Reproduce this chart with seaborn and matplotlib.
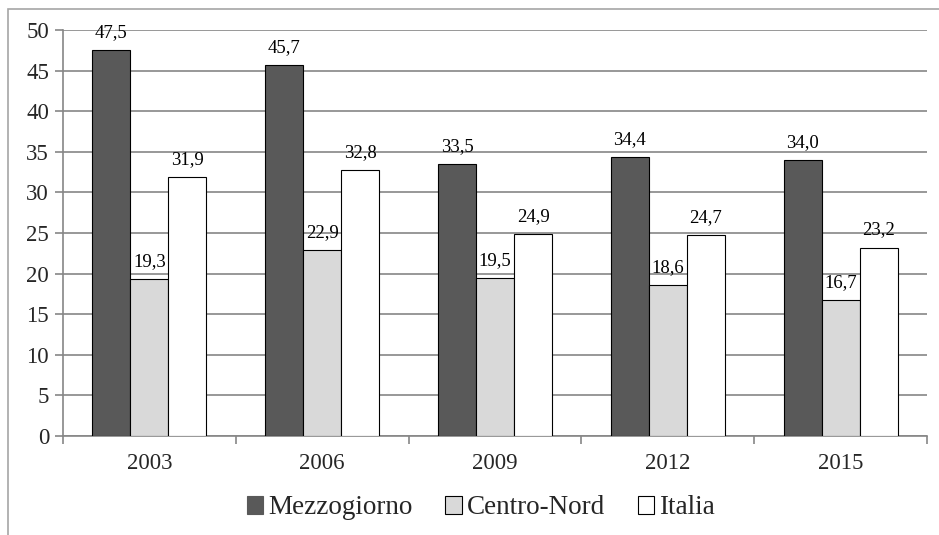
import matplotlib
matplotlib.use("Agg")
import matplotlib.pyplot as plt
from matplotlib.patches import Rectangle, Patch
import seaborn as sns
import pandas as pd

years = ["2003", "2006", "2009", "2012", "2015"]
series = ["Mezzogiorno", "Centro-Nord", "Italia"]
mezzogiorno = [47.5, 45.7, 33.5, 34.4, 34.0]
centro_nord = [19.3, 22.9, 19.5, 18.6, 16.7]
italia = [31.9, 32.8, 24.9, 24.7, 23.2]
colors = ["#595959", "#d9d9d9", "#ffffff"]

rows = []
for name, vals in zip(series, [mezzogiorno, centro_nord, italia]):
    for y, v in zip(years, vals):
        rows.append({"anno": y, "serie": name, "valore": v})
df = pd.DataFrame(rows)

sns.set_style("white")
plt.rcParams["font.family"] = ["Liberation Serif", "DejaVu Serif"]

fig = plt.figure(figsize=(9.39, 5.35), dpi=100)
ax = fig.add_axes([63 / 939, 1 - 436 / 535, (927 - 63) / 939, (436 - 30) / 535])

sns.barplot(data=df, x="anno", y="valore", hue="serie", order=years,
            hue_order=series, palette=colors, width=0.66, dodge=True,
            edgecolor="#000000", linewidth=0.8, saturation=1, legend=False,
            ax=ax, zorder=3)

# value labels with comma decimal separator
for cont in ax.containers:
    for bar in cont:
        h = bar.get_height()
        ax.annotate(f"{h:.1f}".replace(".", ","),
                    (bar.get_x() + bar.get_width() / 2, h),
                    xytext=(0, 6.5), textcoords="offset points",
                    ha="center", va="bottom", fontsize=13.5, color="#000000",
                    zorder=5)

ax.set_xlim(-0.5, 4.5)
ax.set_ylim(0, 50)
ax.set_yticks(range(0, 51, 5))
ax.set_xlabel("")
ax.set_ylabel("")
ax.yaxis.grid(True, color="#868686", linewidth=1.2, zorder=0)
ax.set_axisbelow(True)

for side in ["top", "right"]:
    ax.spines[side].set_visible(False)
for side in ["left", "bottom"]:
    ax.spines[side].set_color("#868686")
    ax.spines[side].set_linewidth(1.2)

ax.tick_params(axis="y", which="major", length=6, width=1.2, color="#868686",
               labelsize=16.5, pad=4, direction="out", left=True)
ax.set_xticks([i - 0.5 for i in range(6)], minor=True)
ax.tick_params(axis="x", which="minor", length=6, width=1.2, color="#868686",
               direction="out", bottom=True)
ax.tick_params(axis="x", which="major", length=0, labelsize=16.5, pad=12)

handles = [Patch(facecolor=c, edgecolor="#000000" if i else c, linewidth=0.8)
           for i, c in enumerate(colors)]
fig.legend(handles, series, loc="center", bbox_to_anchor=(481 / 939, 1 - 508 / 535),
           ncol=3, frameon=False, fontsize=19.5, handlelength=0.6,
           handleheight=0.6, handletextpad=0.2, columnspacing=1.2)

# outer chart frame
fig.patches.append(Rectangle((8 / 939, -0.1), 1.2, 0.1 + 1 - 9 / 535,
                             transform=fig.transFigure, fill=False,
                             edgecolor="#a6a6a6", linewidth=1.2))

fig.savefig("out.png", dpi=100)
